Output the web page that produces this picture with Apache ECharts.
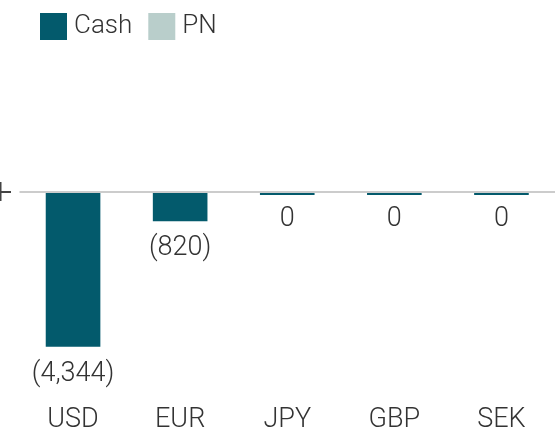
<!DOCTYPE html>
<html><head><meta charset="utf-8">
<script src="https://cdn.jsdelivr.net/npm/echarts@6/dist/echarts.min.js"></script>
<style>html,body{margin:0;padding:0;background:#fff;}#c{width:555px;height:434px;}</style>
</head><body><div id="c"></div>
<script>
var categories = ['USD', 'EUR', 'JPY', 'GBP', 'SEK'];
var cashValues = [-4344, -820, 0, 0, 0];
var pnValues = [0, 0, 0, 0, 0];
var seriesNames = ['Cash', 'PN'];

var FONT = 'Roboto';
var WEIGHT = 300;
var TEXT = '#333';
var CASH_COLOR = '#035a6c';
var PN_COLOR = '#b9cecb';
var chart = echarts.init(document.getElementById('c'), null, {renderer: 'canvas'});
function fmt(v) {
  if (v === 0) return '0';
  var s = Math.abs(v).toLocaleString('en-US');
  return v < 0 ? '(' + s + ')' : s;
}
function renderCash(params, api) {
  var idx = api.value(0), v = api.value(1);
  var c0 = api.coord([idx, 0]);
  var c1 = api.coord([idx, v]);
  var w = api.size([1, 0])[0] * 0.51;
  var y0 = c0[1], y1 = c1[1];
  var top = Math.min(y0, y1), h = Math.abs(y1 - y0);
  if (h < 2) { top = y0 + 1; h = 2; }
  var labelY = Math.max(y0, y1) + 13.5;
  return {
    type: 'group',
    children: [
      {type: 'rect', shape: {x: c0[0] - w / 2, y: top, width: w, height: h}, style: {fill: CASH_COLOR}},
      {type: 'text', style: {text: fmt(v), x: c0[0], y: labelY, align: 'center', verticalAlign: 'top',
        fontFamily: FONT, fontWeight: WEIGHT, fontSize: 27, fill: TEXT}}
    ]
  };
}
chart.setOption({
  animation: false,
  legend: {
    left: 35, top: 8, itemWidth: 27, itemHeight: 27, itemGap: 16,
    icon: 'rect',
    textStyle: {fontFamily: FONT, fontWeight: WEIGHT, fontSize: 26, color: TEXT, padding: [0, 0, 0, 2]},
    data: seriesNames
  },
  grid: {left: 19.5, right: -4.5, top: 192, bottom: 42, containLabel: false},
  xAxis: {
    type: 'category', data: categories, position: 'bottom',
    axisLine: {show: false, onZero: false}, axisTick: {show: false},
    axisLabel: {fontFamily: FONT, fontWeight: WEIGHT, fontSize: 27, color: TEXT, margin: 19}
  },
  yAxis: {
    type: 'value', min: -5500, max: 0, show: false, splitLine: {show: false}
  },
  graphic: [
    {type: 'line', shape: {x1: 0, y1: 192, x2: 11, y2: 192}, style: {stroke: '#444', lineWidth: 2}},
    {type: 'line', shape: {x1: 0.5, y1: 182, x2: 0.5, y2: 201}, style: {stroke: '#444', lineWidth: 2}}
  ],
  series: [
    {
      name: 'Cash', type: 'custom', renderItem: renderCash, z: 3,
      itemStyle: {color: CASH_COLOR},
      encode: {x: 0, y: 1},
      data: cashValues.map(function (v, i) { return [i, v]; })
    },
    {
      name: 'PN', type: 'bar', data: pnValues, barWidth: 55, z: 1,
      itemStyle: {color: PN_COLOR},
      markLine: {
        silent: true, symbol: 'none', label: {show: false},
        lineStyle: {color: '#cccccc', width: 2, type: 'solid'},
        data: [{yAxis: 0}]
      }
    }
  ]
});
</script></body></html>
